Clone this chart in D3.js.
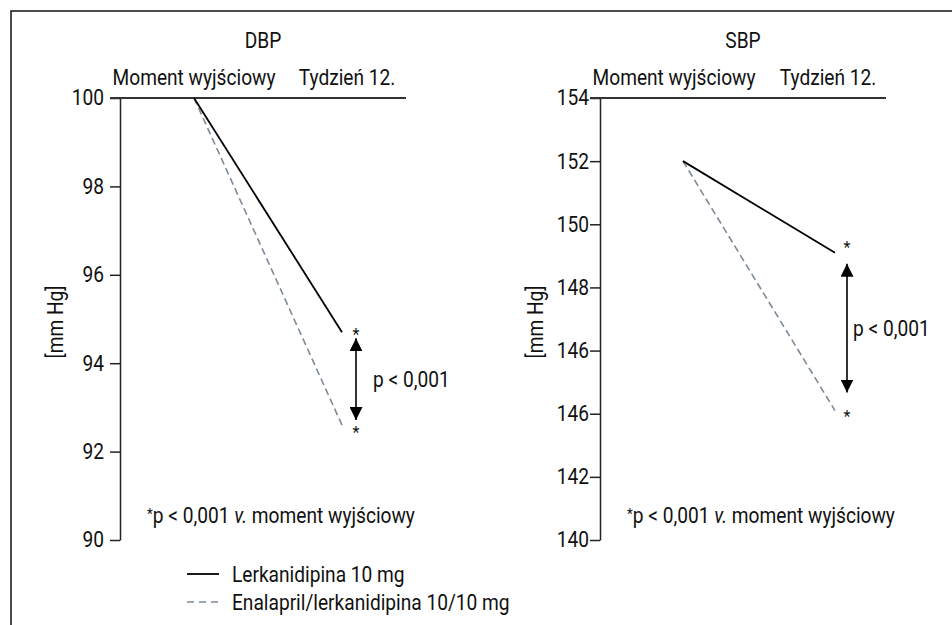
<!DOCTYPE html>
<html>
<head>
<meta charset="utf-8">
<script src="https://cdn.jsdelivr.net/npm/d3@7"></script>
<style>
  body { margin: 0; background: #fff; }
  text { font-family: Roboto, "Liberation Sans", sans-serif; fill: #111; }
</style>
</head>
<body>
<script>
// data
let timepoints = ["Moment wyjściowy", "Tydzień 12."]
let seriesNames = ["Lerkanidipina 10 mg", "Enalapril/lerkanidipina 10/10 mg"]
let panelTitles = ["DBP", "SBP"]

let dbpLerk = [100, 94.7]
let dbpEnal = [100, 92.6]
let sbpLerk = [152, 149.1]
let sbpEnal = [152, 144.1]

let dbpTicks = [100, 98, 96, 94, 92, 90]
let dbpTickLabels = ["100", "98", "96", "94", "92", "90"]
let sbpTicks = [154, 152, 150, 148, 146, 144, 142, 140]
let sbpTickLabels = ["154", "152", "150", "148", "146", "146", "142", "140"]

let pText = "p < 0,001"
let unitLabel = "[mm Hg]"

// sizes
let width = 952, height = 625
let fs = 21.5
let sx = 0.89   // horizontal squeeze, the original uses a condensed face
let plotTop = 98, plotBottom = 540
let enalColor = "#7d8a99"

let svg = d3.select("body")
  .append("svg")
  .attr("width", width)
  .attr("height", height)

// condensed-looking text
function label(parent, x, y, txt, anchor) {
  return parent.append("text")
    .attr("transform", "translate(" + x + "," + y + ") scale(" + sx + ",1)")
    .attr("text-anchor", anchor || "start")
    .attr("font-size", fs)
    .text(txt)
}

// frame (left & top edges only visible)
svg.append("path")
  .attr("d", "M11,625 V11 H952")
  .attr("fill", "none")
  .attr("stroke", "#111")
  .attr("stroke-width", 1.5)

// arrow heads
let defs = svg.append("defs")
defs.append("marker")
  .attr("id", "head")
  .attr("viewBox", "0 0 12 12")
  .attr("refX", 12).attr("refY", 6)
  .attr("markerWidth", 13).attr("markerHeight", 13)
  .attr("markerUnits", "userSpaceOnUse")
  .attr("orient", "auto-start-reverse")
  .append("path")
  .attr("d", "M0,0 L12,6 L0,12 Z")
  .attr("fill", "#000")

let panels = [
  { title: panelTitles[0], axisX: 120, domain: [90, 100], ticks: dbpTicks, labels: dbpTickLabels,
    pad: 6, xRange: [194, 342], labelShift: [0, 5], lerk: dbpLerk, enal: dbpEnal,
    arrowInset: [6, 5], starDx: 14, starDy: [-1, 4], unitX: 55, pX: 373 },
  { title: panelTitles[1], axisX: 600, domain: [140, 154], ticks: sbpTicks, labels: sbpTickLabels,
    pad: 1, xRange: [683, 835], labelShift: [-9, -7], lerk: sbpLerk, enal: sbpEnal,
    arrowInset: [11, 18], starDx: 12, starDy: [-9, 2], unitX: 535, pX: 853 }
]

panels.forEach(p => {
  let y = d3.scaleLinear().domain(p.domain).range([plotBottom, plotTop])
  let x = d3.scalePoint().domain(timepoints).range(p.xRange)
  let g = svg.append("g")

  // y axis
  let axis = g.append("g")
    .attr("transform", "translate(" + p.axisX + ",0)")
    .call(d3.axisLeft(y)
      .tickValues(p.ticks)
      .tickSize(10)
      .tickSizeOuter(0)
      .tickPadding(p.pad)
      .tickFormat((d, i) => p.labels[i]))
  axis.selectAll("path, line").attr("stroke", "#222").attr("stroke-width", 1.5)
  axis.attr("font-family", null).attr("font-size", null)
  axis.selectAll("text")
    .attr("font-size", fs)
    .attr("fill", "#111")
    .attr("x", -(10 + p.pad) / sx)
    .attr("transform", "scale(" + sx + ",1)")

  // horizontal top line
  g.append("line")
    .attr("x1", p.axisX - 10).attr("x2", p.axisX + 286)
    .attr("y1", y(p.domain[1])).attr("y2", y(p.domain[1]))
    .attr("stroke", "#333").attr("stroke-width", 2)

  // title & column heads
  let mid = (p.axisX - 10 + p.axisX + 286) / 2
  label(g, mid + 5, 48, p.title, "middle")
  timepoints.forEach((t, i) => label(g, x(t) + p.labelShift[i], 85, t, "middle"))

  // unit label
  g.append("text")
    .attr("transform", "translate(" + p.unitX + ",322) rotate(-90) scale(" + sx + ",1)")
    .attr("text-anchor", "middle")
    .attr("dy", "0.35em")
    .attr("font-size", fs)
    .text(unitLabel)

  // series lines
  let line = d3.line()
    .x((d, i) => x(timepoints[i]))
    .y(d => y(d))

  g.append("path")
    .attr("d", line(p.enal))
    .attr("fill", "none")
    .attr("stroke", enalColor)
    .attr("stroke-width", 1.6)
    .attr("stroke-dasharray", "7,4")

  g.append("path")
    .attr("d", line(p.lerk))
    .attr("fill", "none")
    .attr("stroke", "#000")
    .attr("stroke-width", 1.8)

  // asterisks at week 12
  let endX = x(timepoints[1])
  let yL = y(p.lerk[1]), yE = y(p.enal[1])
  let starY = [yL + p.starDy[0], yE + p.starDy[1]]
  g.selectAll(".star")
    .data(starY)
    .enter()
    .append("text")
    .attr("class", "star")
    .attr("x", endX + p.starDx)
    .attr("y", d => d + 9)
    .attr("text-anchor", "middle")
    .attr("font-size", 16)
    .attr("fill", "#000")
    .text("*")

  // difference arrow
  let a1 = yL + p.arrowInset[0], a2 = yE - p.arrowInset[1]
  g.append("line")
    .attr("x1", endX + p.starDx).attr("x2", endX + p.starDx)
    .attr("y1", a1).attr("y2", a2)
    .attr("stroke", "#000")
    .attr("stroke-width", 1.6)
    .attr("marker-start", "url(#head)")
    .attr("marker-end", "url(#head)")

  label(g, p.pX, (a1 + a2) / 2, pText).attr("dy", "0.35em")

  // footnote
  let foot = label(g, p.axisX + 27, 523, "")
  foot.append("tspan").attr("font-size", 15).attr("dy", -4).text("*")
  foot.append("tspan").attr("dy", 4).text("p < 0,001 ")
  foot.append("tspan").attr("font-style", "italic").text("v.")
  foot.append("tspan").text(" moment wyjściowy")
})

// legend
let legend = svg.append("g")
  .selectAll("g")
  .data(seriesNames)
  .enter()
  .append("g")
  .attr("transform", (d, i) => "translate(187," + (574 + i * 28) + ")")

legend.append("line")
  .attr("x1", 0).attr("x2", 32)
  .attr("stroke", (d, i) => i === 0 ? "#000" : enalColor)
  .attr("stroke-width", (d, i) => i === 0 ? 1.8 : 1.6)
  .attr("stroke-dasharray", (d, i) => i === 0 ? null : "7,5")

legend.each(function (d) {
  label(d3.select(this), 45, 0, d).attr("dy", "0.35em")
})
</script>
</body>
</html>
